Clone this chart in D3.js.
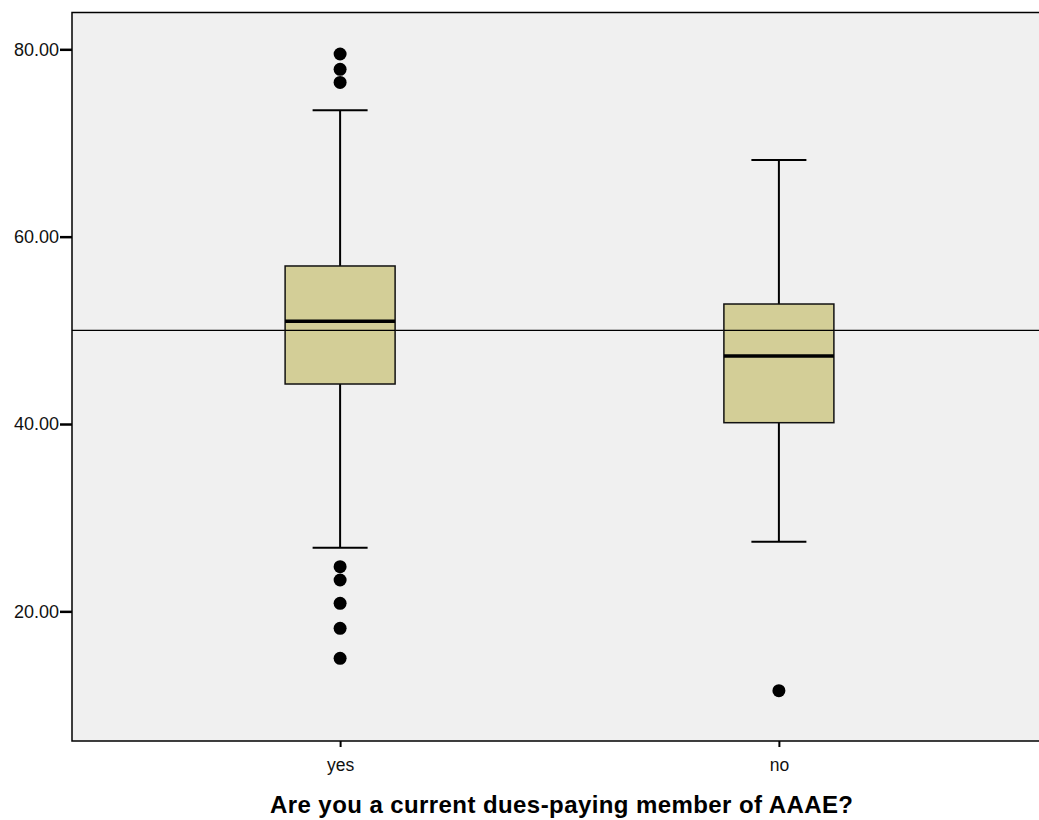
<!DOCTYPE html>
<html>
<head>
<meta charset="utf-8">
<script src="https://cdn.jsdelivr.net/npm/d3@7"></script>
<style>
  body { margin: 0; background: #fff; }
  svg { display: block; font-family: "Liberation Sans", Arial, sans-serif; }
</style>
</head>
<body>
<svg id="chart" width="1039" height="820"></svg>
<script>
// Membership groups and their box-plot summaries
const categories = ["yes", "no"];
const q1 = [44.27, 40.14];
const medians = [50.96, 47.26];
const q3 = [56.87, 52.81];
const whiskerLow = [26.79, 27.43];
const whiskerHigh = [73.49, 68.18];
const outliers = [
  [79.5, 77.86, 76.47, 24.77, 23.35, 20.86, 18.19, 14.99],
  [11.53]
];
const yTicks = [20, 40, 60, 80];
const referenceValue = 50;
const xTitle = "Are you a current dues-paying member of AAAE?";

const svg = d3.select("#chart");
const plotLeft = 72, plotRight = 1047, plotTop = 12.5, plotBottom = 741;

const x = d3.scalePoint().domain(categories).range([plotLeft, plotRight]).padding(0.611);
const y = d3.scaleLinear().domain([6.16, 83.93]).range([plotBottom, plotTop]);

// plot background
svg.append("rect")
  .attr("x", plotLeft).attr("y", plotTop)
  .attr("width", plotRight - plotLeft).attr("height", plotBottom - plotTop)
  .attr("fill", "#f0f0f0")
  .attr("stroke", "#000").attr("stroke-width", 1.5);

// reference line
svg.append("line")
  .attr("x1", plotLeft).attr("x2", plotRight)
  .attr("y1", y(referenceValue)).attr("y2", y(referenceValue))
  .attr("stroke", "#000").attr("stroke-width", 1.2);

const boxW = 110, capW = 55;

const groups = svg.selectAll("g.box")
  .data(categories.map((c, i) => ({ c, i })))
  .join("g").attr("class", "box");

// whisker stems
groups.append("line")
  .attr("x1", d => x(d.c)).attr("x2", d => x(d.c))
  .attr("y1", d => y(whiskerHigh[d.i])).attr("y2", d => y(q3[d.i]))
  .attr("stroke", "#000").attr("stroke-width", 2);
groups.append("line")
  .attr("x1", d => x(d.c)).attr("x2", d => x(d.c))
  .attr("y1", d => y(q1[d.i])).attr("y2", d => y(whiskerLow[d.i]))
  .attr("stroke", "#000").attr("stroke-width", 2);

// whisker caps
groups.selectAll("line.cap")
  .data(d => [whiskerHigh[d.i], whiskerLow[d.i]].map(v => ({ c: d.c, v })))
  .join("line").attr("class", "cap")
  .attr("x1", d => x(d.c) - capW / 2).attr("x2", d => x(d.c) + capW / 2)
  .attr("y1", d => y(d.v)).attr("y2", d => y(d.v))
  .attr("stroke", "#000").attr("stroke-width", 2);

// boxes
groups.append("rect")
  .attr("x", d => x(d.c) - boxW / 2)
  .attr("y", d => y(q3[d.i]))
  .attr("width", boxW)
  .attr("height", d => y(q1[d.i]) - y(q3[d.i]))
  .attr("fill", "#d3ce97")
  .attr("stroke", "#111").attr("stroke-width", 1.5);

// reference line shows through boxes
groups.append("line")
  .attr("x1", d => x(d.c) - boxW / 2).attr("x2", d => x(d.c) + boxW / 2)
  .attr("y1", y(referenceValue)).attr("y2", y(referenceValue))
  .attr("stroke", "#000").attr("stroke-width", 1.2);

// medians
groups.append("line")
  .attr("x1", d => x(d.c) - boxW / 2).attr("x2", d => x(d.c) + boxW / 2)
  .attr("y1", d => y(medians[d.i])).attr("y2", d => y(medians[d.i]))
  .attr("stroke", "#000").attr("stroke-width", 3.5);

// outliers
groups.selectAll("circle")
  .data(d => outliers[d.i].map(v => ({ c: d.c, v })))
  .join("circle")
  .attr("cx", d => x(d.c)).attr("cy", d => y(d.v))
  .attr("r", 6.5).attr("fill", "#000");

// y axis
const yAxis = svg.append("g")
  .attr("transform", `translate(${plotLeft},0)`)
  .call(d3.axisLeft(y).tickValues(yTicks).tickFormat(d3.format(".2f")).tickSize(12).tickPadding(1));
yAxis.select(".domain").remove();
yAxis.selectAll(".tick line").attr("stroke", "#000").attr("stroke-width", 2.5);
yAxis.selectAll(".tick text").attr("font-size", 18).attr("fill", "#111")
  .attr("font-family", "'Liberation Sans', Arial, sans-serif");

// x axis
const xAxis = svg.append("g")
  .attr("transform", `translate(0,${plotBottom})`)
  .call(d3.axisBottom(x).tickSize(6).tickPadding(12));
xAxis.select(".domain").remove();
xAxis.selectAll(".tick line").attr("stroke", "#000").attr("stroke-width", 2);
xAxis.selectAll(".tick text").attr("font-size", 17.5).attr("fill", "#111")
  .attr("font-family", "'Liberation Sans', Arial, sans-serif");

// axis title
svg.append("text")
  .attr("x", 561.5).attr("y", 813)
  .attr("text-anchor", "middle")
  .attr("font-size", 24).attr("font-weight", "bold")
  .attr("textLength", 583).attr("lengthAdjust", "spacing")
  .attr("fill", "#000")
  .text(xTitle);
</script>
</body>
</html>
